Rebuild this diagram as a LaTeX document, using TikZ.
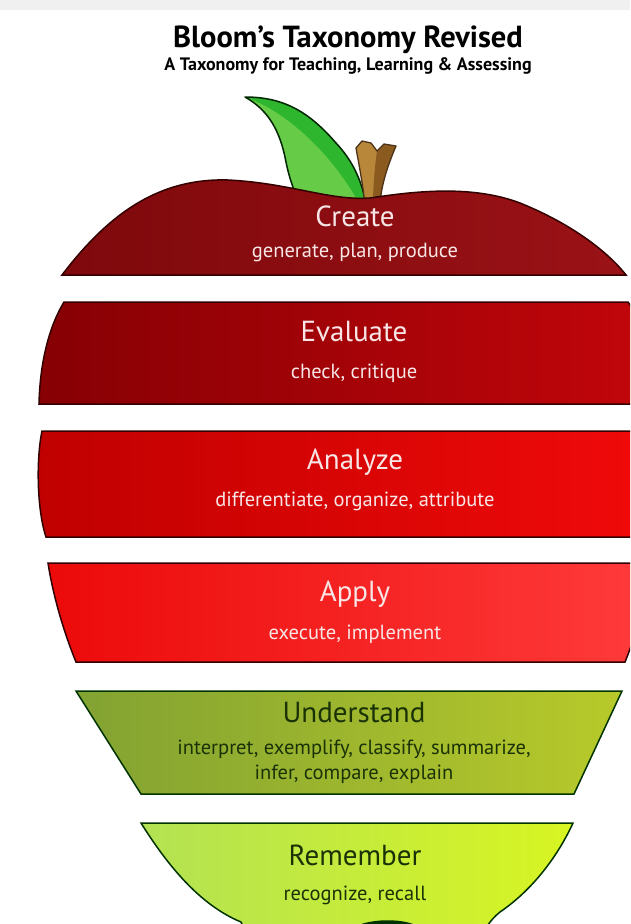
\documentclass[tikz,border=0pt]{standalone}
\usepackage{fontspec}
\setmainfont{PT Sans}
\usepackage{xcolor}
\usepackage{tikz}
\usetikzlibrary{positioning}
\definecolor{createL}{HTML}{7E090C}
\definecolor{createR}{HTML}{9A1216}
\definecolor{evalL}{HTML}{860004}
\definecolor{evalR}{HTML}{C2060B}
\definecolor{analyzeL}{HTML}{C00000}
\definecolor{analyzeR}{HTML}{F20A0A}
\definecolor{applyL}{HTML}{EC0A0A}
\definecolor{applyR}{HTML}{FF3B3B}
\definecolor{understandL}{HTML}{82A232}
\definecolor{understandR}{HTML}{B8CA2A}
\definecolor{rememberL}{HTML}{B3E253}
\definecolor{rememberR}{HTML}{D8F522}
\definecolor{leafLight}{HTML}{66CC48}
\definecolor{leafDark}{HTML}{2DB62E}
\definecolor{stemLight}{HTML}{B98739}
\definecolor{stemDark}{HTML}{8A5A1E}
\definecolor{pinkwhite}{HTML}{F8E6E6}
\definecolor{darkgreen}{HTML}{1A3206}

\begin{document}
\begin{tikzpicture}[x=1pt, y=-1pt,
    redslice/.style={draw=black!80!red, line width=1.5pt},
    greenslice/.style={draw=black!80!green, line width=1.5pt},
    levelname/.style={font=\fontsize{29}{31}\selectfont, text=pinkwhite},
    verbs/.style={font=\fontsize{20.5}{25}\selectfont, text=pinkwhite, align=center}]
    \useasboundingbox (0,0) rectangle (630,924);
    \clip (0,0) rectangle (630,924);

    % Bande grise en haut
    \fill[gray!12] (0,0) rectangle (630,10);

    % Titre
    \node[font=\bfseries\fontsize{30.5}{32}\selectfont] (title) at (348,40) {Bloom’s Taxonomy Revised};
    \node[font=\bfseries\fontsize{18}{20}\selectfont] (subtitle) at (348,66) {A Taxonomy for Teaching, Learning \& Assessing};

    % Feuille
    \fill[leafLight] (245,97) .. controls (268,110) and (280,130) .. (286,162) .. controls (290,182) and (296,195) .. (300,205) -- (366,205) .. controls (362,180) and (352,160) .. (336,143) .. controls (310,113) and (285,97) .. (245,97) -- cycle;
    \fill[leafDark] (250,99) .. controls (288,113) and (334,156) .. (360,205) -- (366,205) .. controls (362,180) and (352,160) .. (336,143) .. controls (310,113) and (285,97) .. (245,97) -- cycle;
    \draw[black!85!green, line width=1.5pt, line join=round] (245,97) .. controls (268,110) and (280,130) .. (286,162) .. controls (290,182) and (296,195) .. (300,205) -- (366,205) .. controls (362,180) and (352,160) .. (336,143) .. controls (310,113) and (285,97) .. (245,97) -- cycle;

    % Queue
    \fill[stemLight] (356,148) -- (362,141) -- (371,143) -- (377,151) -- (384,144) -- (396,146) .. controls (388,165) and (381,185) .. (380,205) -- (365,205) .. controls (363,185) and (359,165) .. (356,148) -- cycle;
    \fill[stemDark] (377,151) -- (384,144) -- (396,146) .. controls (388,165) and (381,185) .. (380,205) -- (373,205) .. controls (373,185) and (375,165) .. (377,151) -- cycle;
    \draw[black!60!brown, line width=1.3pt, line join=round] (356,148) -- (362,141) -- (371,143) -- (377,151) -- (384,144) -- (396,146) .. controls (388,165) and (381,185) .. (380,205) -- (365,205) .. controls (363,185) and (359,165) .. (356,148) -- cycle;

    % Create
    \draw[redslice, left color=createL, right color=createR] (62,275) .. controls (110,212) and (160,178) .. (228,180) .. controls (290,183) and (330,201) .. (370,198) .. controls (410,192) and (470,184) .. (520,203) .. controls (572,224) and (608,252) .. (626,275) -- cycle;
    \node[levelname] (create) at (355,216) {Create};
    \node[verbs] (createverbs) at (355,252) {generate, plan, produce};

    % Evaluate
    \draw[redslice, left color=evalL, right color=evalR] (64,302) -- (628,302) .. controls (648,330) and (658,370) .. (658,404) -- (39,404) .. controls (40,360) and (50,325) .. (64,302) -- cycle;
    \node[levelname] (evaluate) at (354,332) {Evaluate};
    \node[verbs] (evaluateverbs) at (354,373) {check, critique};

    % Analyze
    \draw[redslice, left color=analyzeL, right color=analyzeR] (42,431) -- (658,431) .. controls (664,460) and (664,510) .. (654,537) -- (46,537) .. controls (37,510) and (36,460) .. (42,431) -- cycle;
    \node[levelname] (analyze) at (355,462) {Analyze};
    \node[verbs] (analyzeverbs) at (355,501) {differentiate, organize, attribute};

    % Apply
    \draw[redslice, left color=applyL, right color=applyR] (48,563) -- (652,563) .. controls (646,600) and (636,635) .. (625,662) -- (76,662) .. controls (63,630) and (53,595) .. (48,563) -- cycle;
    \node[levelname] (apply) at (355,594) {Apply};
    \node[verbs] (applyverbs) at (355,634) {execute, implement};

    % Understand
    \draw[greenslice, left color=understandL, right color=understandR] (76,691) -- (622,691) -- (574,794) -- (141,794) -- cycle;
    \node[levelname, text=darkgreen] (understand) at (354,713) {Understand};
    \node[verbs, text=darkgreen] (understandverbs) at (354,762) {interpret, exemplify, classify, summarize,\\infer, compare, explain};

    % Remember
    \draw[greenslice, left color=rememberL, right color=rememberR] (141,823) -- (573,823) .. controls (555,862) and (528,893) .. (500,912) .. controls (490,920) and (484,930) .. (480,940) -- (250,940) .. controls (245,932) and (243,926) .. (241,922) .. controls (200,905) and (168,866) .. (141,823) -- cycle;
    \fill[black!80!green] (350,930) .. controls (362,918) and (410,916) .. (423,930) -- cycle;
    \node[levelname, text=darkgreen] (remember) at (355,855) {Remember};
    \node[verbs, text=darkgreen] (rememberverbs) at (355,895) {recognize, recall};
\end{tikzpicture}
\end{document}
